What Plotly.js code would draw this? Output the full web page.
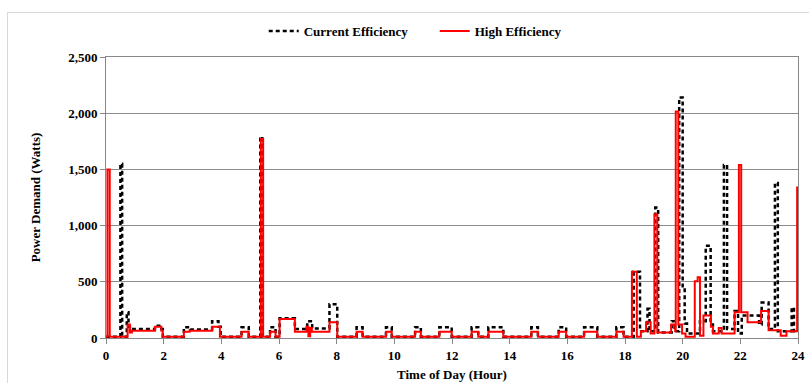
<!DOCTYPE html>
<html>
<head>
<meta charset="utf-8">
<script src="https://cdn.plot.ly/plotly-3.0.1.min.js"></script>
<style>
html,body{margin:0;padding:0;background:#fff;}
#wrap{position:relative;width:809px;height:383px;overflow:hidden;}
#chart{position:absolute;left:0;top:0;width:809px;height:383px;}
#frame{position:absolute;left:7px;top:12px;width:820px;height:420px;border:1px solid #d9d9d9;pointer-events:none;}
</style>
</head>
<body>
<div id="wrap"><div id="chart"></div><div id="frame"></div></div>
<script>
// Step series: time of day (hour) where a level starts, and the power (W) from then on
const currentTime = [0, 0.50, 0.56, 0.72, 0.78, 0.88, 1.70, 1.92, 1.97, 2.70, 2.92, 3.68, 3.90, 3.98, 4.70, 4.95, 5.35, 5.42, 5.69, 5.88, 6.02, 6.55, 6.98, 7.15, 7.75, 8.02, 8.69, 8.90, 9.71, 9.91, 10.72, 10.92, 11.56, 11.99, 12.68, 12.91, 13.26, 13.78, 14.75, 14.98, 15.70, 15.96, 16.58, 17.04, 17.70, 17.95, 18.30, 18.52, 18.78, 18.85, 19.05, 19.15, 19.62, 19.72, 19.88, 20.00, 20.07, 20.15, 20.60, 20.80, 20.97, 21.05, 21.43, 21.54, 21.80, 21.92, 22.05, 22.65, 22.74, 22.98, 23.20, 23.30, 23.78, 23.86, 24.00];
const currentPower = [12, 1550, 12, 230, 100, 80, 110, 80, 12, 95, 75, 150, 100, 12, 95, 12, 1790, 12, 95, 12, 175, 80, 150, 85, 300, 12, 95, 12, 95, 12, 95, 12, 95, 12, 95, 12, 95, 12, 95, 12, 95, 12, 95, 12, 95, 12, 590, 60, 260, 60, 1160, 50, 150, 60, 2140, 450, 130, 40, 150, 820, 120, 60, 1540, 80, 240, 40, 200, 120, 315, 80, 1380, 60, 270, 60, 60];
const highTime = [0, 0.05, 0.13, 0.75, 0.83, 0.90, 1.70, 1.92, 1.97, 2.70, 2.90, 3.68, 3.95, 4.70, 4.95, 5.37, 5.45, 5.69, 5.88, 6.02, 6.55, 6.95, 7.02, 7.08, 7.14, 7.75, 8.02, 8.69, 8.90, 9.71, 9.91, 10.72, 10.92, 11.56, 11.99, 12.68, 12.91, 13.26, 13.78, 14.75, 14.98, 15.70, 15.96, 16.58, 17.04, 17.70, 17.95, 18.24, 18.41, 18.55, 18.73, 18.89, 19.02, 19.12, 19.60, 19.74, 19.76, 19.85, 19.98, 20.10, 20.42, 20.52, 20.60, 20.72, 20.98, 21.05, 21.25, 21.35, 21.80, 21.95, 22.03, 22.25, 22.72, 22.98, 23.40, 23.60, 23.97, 24.00];
const highPower = [12, 1500, 12, 120, 50, 65, 100, 65, 12, 55, 65, 100, 12, 55, 12, 1770, 12, 55, 12, 170, 55, 100, 15, 90, 55, 140, 12, 55, 12, 55, 12, 55, 12, 55, 12, 55, 12, 55, 12, 55, 12, 55, 12, 55, 12, 55, 12, 590, 12, 60, 140, 40, 1100, 50, 120, 60, 2015, 120, 40, 12, 505, 540, 20, 200, 100, 40, 90, 40, 230, 1540, 230, 140, 240, 70, 20, 60, 1340, 1340];
const seriesNames = ['Current Efficiency', 'High Efficiency'];
const xTicks = [0, 2, 4, 6, 8, 10, 12, 14, 16, 18, 20, 22, 24];
const yTicks = [0, 500, 1000, 1500, 2000, 2500];

const font = 'Liberation Serif, Times New Roman, serif';
const traces = [
  {x: currentTime, y: currentPower, name: seriesNames[0], type: 'scatter', mode: 'lines',
   line: {shape: 'hv', color: '#000000', width: 2.5, dash: '4px,3px'}},
  {x: highTime, y: highPower, name: seriesNames[1], type: 'scatter', mode: 'lines',
   line: {shape: 'hv', color: '#ff0000', width: 2}}
];
const layout = {
  width: 809, height: 383,
  margin: {l: 106, r: 11, t: 57, b: 45},
  paper_bgcolor: 'rgba(0,0,0,0)', plot_bgcolor: '#ffffff',
  font: {family: font, size: 13, color: '#000'},
  showlegend: true,
  legend: {orientation: 'h', xref: 'container', yref: 'container', x: 0.326, y: 0.919, xanchor: 'left', yanchor: 'middle',
           font: {family: font, size: 13, color: '#000', weight: 'bold'}, entrywidth: 126, entrywidthmode: 'pixels',
           bgcolor: 'rgba(0,0,0,0)'},
  xaxis: {range: [0, 24], tickvals: xTicks, ticktext: xTicks.map(String), ticks: 'outside', ticklen: 5, tickcolor: '#888',
          showline: true, linecolor: '#888', linewidth: 1, mirror: true, showgrid: false, zeroline: false,
          tickfont: {family: font, size: 13, weight: 'bold'},
          title: {text: 'Time of Day (Hour)', font: {family: font, size: 13, weight: 'bold'}, standoff: 8}},
  yaxis: {range: [0, 2500], tickvals: yTicks, ticktext: yTicks.map(v => v.toLocaleString('en-US')), ticks: 'outside', ticklen: 5, tickcolor: '#888',
          showline: true, linecolor: '#888', linewidth: 1, mirror: true, showgrid: true, gridcolor: '#8c8c8c', gridwidth: 1, zeroline: false,
          tickfont: {family: font, size: 13, weight: 'bold'},
          title: {text: 'Power Demand (Watts)', font: {family: font, size: 13, weight: 'bold'}, standoff: 24}}
};
Plotly.newPlot('chart', traces, layout, {displayModeBar: false, staticPlot: true});
</script>
</body>
</html>
